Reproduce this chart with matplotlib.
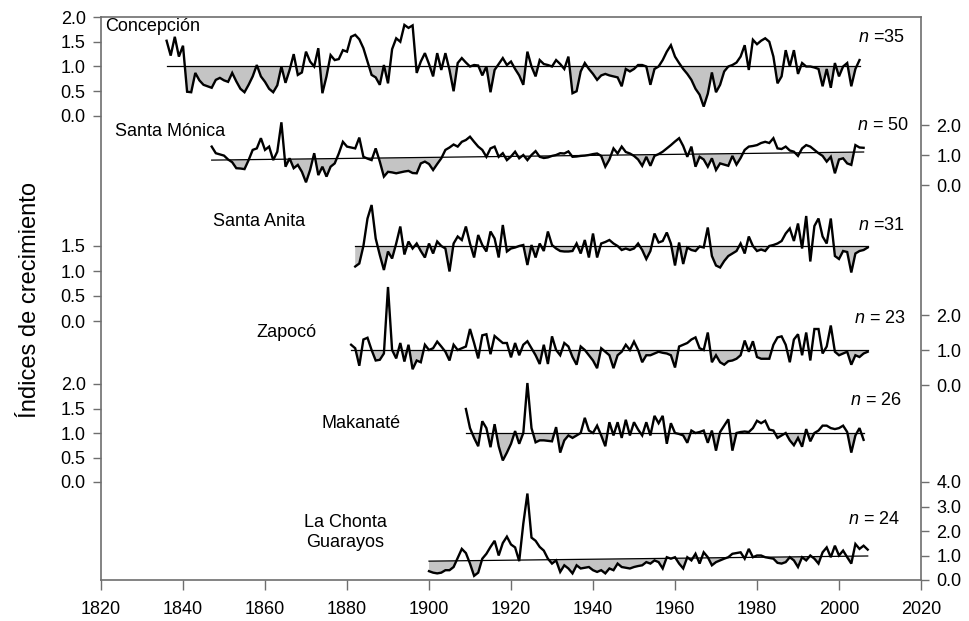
import numpy as np
import matplotlib
matplotlib.use('Agg')
import matplotlib.pyplot as plt

plt.rcParams['font.family'] = ['Liberation Sans', 'DejaVu Sans']
plt.rcParams['mathtext.fontset'] = 'custom'
plt.rcParams['mathtext.it'] = 'Liberation Sans:italic'
plt.rcParams['mathtext.rm'] = 'Liberation Sans'

# ---- datos (índices de crecimiento por año) ----
conc_start = 1836
conc_vals = [1.52, 1.22, 1.60, 1.20, 1.42, 0.49, 0.48, 0.87, 0.72, 0.63,
             0.60, 0.57, 0.73, 0.77, 0.72, 0.69, 0.87, 0.70, 0.55, 0.48,
             0.63, 0.80, 1.03, 0.80, 0.69, 0.55, 0.48, 0.62, 1.00, 0.67,
             0.93, 1.25, 0.83, 0.88, 1.30, 1.10, 1.00, 1.37, 0.46, 0.80,
             1.23, 1.13, 1.15, 1.33, 1.30, 1.60, 1.64, 1.55, 1.37, 1.10,
             0.83, 0.78, 0.63, 1.03, 0.66, 1.35, 1.57, 1.50, 1.84, 1.78,
             1.83, 0.87, 1.10, 1.27, 1.05, 0.80, 1.27, 0.93, 1.27, 0.93,
             0.50, 1.07, 1.17, 1.08, 1.00, 1.03, 1.02, 0.82, 1.00, 0.48,
             0.93, 1.05, 1.17, 1.03, 1.10, 0.95, 0.82, 0.63, 1.30, 1.00,
             0.80, 1.13, 1.05, 1.03, 1.00, 1.13, 1.05, 0.95, 1.20, 0.46,
             0.50, 0.90, 1.07, 0.95, 0.85, 0.73, 0.82, 0.85, 0.82, 0.80,
             0.78, 0.60, 0.95, 0.90, 0.95, 1.03, 1.03, 1.00, 0.63, 0.95,
             1.00, 1.13, 1.30, 1.43, 1.20, 1.07, 0.95, 0.85, 0.73, 0.55,
             0.43, 0.19, 0.45, 0.88, 0.48, 0.63, 0.90, 1.00, 1.03, 1.08,
             1.20, 1.43, 0.93, 1.54, 1.45, 1.52, 1.57, 1.50, 1.20, 0.66,
             0.80, 1.33, 1.00, 1.33, 0.85, 1.07, 1.00, 1.00, 0.98, 0.95,
             0.60, 0.95, 0.57, 1.07, 0.80, 1.00, 1.07, 0.60, 0.95, 1.13]

smon_start = 1847
smon_vals = [1.28, 1.06, 1.02, 0.98, 0.85, 0.76, 0.56, 0.55, 0.53, 0.83,
             1.17, 1.22, 1.56, 1.17, 1.28, 0.83, 1.11, 2.09, 0.61, 0.89,
             0.56, 0.67, 0.44, 0.09, 0.50, 1.06, 0.33, 0.61, 0.28, 0.61,
             0.72, 1.05, 1.44, 1.28, 1.25, 1.22, 1.58, 0.94, 0.88, 0.83,
             1.22, 0.78, 0.28, 0.44, 0.42, 0.39, 0.42, 0.45, 0.47, 0.40,
             0.39, 0.72, 0.78, 0.70, 0.50, 0.70, 0.89, 1.17, 1.25, 1.35,
             1.28, 1.44, 1.50, 1.61, 1.44, 1.28, 1.17, 0.94, 1.22, 1.28,
             0.94, 1.06, 0.83, 0.95, 1.11, 0.89, 1.00, 0.83, 1.00, 1.13,
             0.94, 0.90, 0.92, 0.97, 1.00, 1.06, 1.05, 1.12, 0.94, 0.95,
             0.97, 0.98, 1.00, 1.03, 1.05, 0.97, 0.61, 0.85, 1.22, 1.05,
             1.28, 1.10, 1.05, 0.97, 0.85, 0.64, 0.94, 0.64, 0.97, 1.03,
             1.11, 1.22, 1.33, 1.45, 1.56, 1.30, 0.94, 1.28, 0.61, 0.94,
             0.85, 0.61, 0.89, 0.50, 0.72, 0.68, 0.64, 0.97, 0.68, 0.90,
             1.17, 1.28, 1.30, 1.33, 1.40, 1.44, 1.40, 1.56, 1.22, 1.20,
             1.28, 1.15, 1.11, 0.97, 1.22, 1.33, 1.28, 1.17, 1.06, 0.97,
             0.78, 0.94, 0.39, 0.85, 0.89, 0.72, 0.67, 1.33, 1.25, 1.24]

sani_start = 1882
sani_vals = [0.59, 0.65, 1.00, 1.55, 1.82, 1.15, 0.82, 0.52, 0.89, 0.75,
             1.05, 1.39, 0.83, 1.09, 0.95, 1.05, 0.90, 0.77, 1.05, 0.85,
             1.09, 1.00, 0.95, 0.49, 1.05, 1.19, 1.12, 1.39, 1.05, 0.77,
             1.22, 1.02, 0.89, 1.29, 1.15, 0.77, 1.42, 0.89, 0.95, 0.97,
             1.00, 1.02, 0.62, 1.02, 0.77, 1.05, 0.90, 1.29, 1.02, 0.95,
             0.90, 0.89, 0.89, 0.90, 1.05, 0.85, 1.12, 0.77, 1.25, 0.77,
             1.05, 1.08, 1.12, 1.05, 1.00, 0.92, 0.95, 0.92, 0.95, 1.05,
             0.92, 0.74, 0.90, 1.25, 1.07, 1.10, 1.27, 1.05, 0.61, 1.07,
             0.64, 0.97, 0.92, 0.90, 0.99, 0.97, 1.37, 0.80, 0.61, 0.57,
             0.70, 0.80, 0.85, 0.90, 1.05, 0.85, 1.19, 1.00, 0.90, 0.93,
             0.90, 1.00, 1.02, 1.05, 1.10, 1.25, 1.35, 1.10, 1.45, 0.95,
             1.60, 0.69, 1.40, 1.55, 1.19, 1.05, 1.55, 0.80, 0.74, 0.90,
             0.88, 0.47, 0.85, 0.90, 0.92, 0.97]

zapo_start = 1881
zapo_vals = [1.15, 1.05, 0.55, 1.30, 1.35, 1.00, 0.70, 0.72, 0.90, 2.80,
             1.00, 0.76, 1.20, 0.67, 1.15, 0.45, 0.70, 0.65, 1.15, 1.00,
             1.05, 1.24, 1.10, 0.95, 0.70, 1.15, 1.00, 1.05, 1.10, 1.60,
             1.20, 0.76, 1.42, 1.45, 0.88, 1.40, 1.30, 1.20, 1.20, 0.79,
             1.20, 0.85, 1.15, 1.25, 1.05, 0.85, 0.60, 1.15, 0.60, 1.39,
             1.00, 0.85, 1.20, 1.10, 0.80, 0.58, 1.10, 1.00, 0.85, 0.70,
             0.48, 1.05, 0.95, 0.85, 0.48, 0.85, 0.95, 1.15, 1.00, 1.24,
             1.00, 0.65, 0.85, 0.85, 0.90, 0.95, 0.92, 0.90, 0.85, 0.50,
             1.10, 1.15, 1.20, 1.30, 1.36, 1.05, 1.00, 1.50, 0.65, 0.85,
             0.65, 0.58, 0.68, 0.70, 0.75, 0.85, 1.27, 0.95, 1.25, 0.80,
             0.75, 0.75, 0.75, 1.15, 1.36, 1.39, 1.15, 0.65, 1.30, 1.45,
             0.85, 1.50, 0.70, 1.60, 1.60, 0.90, 1.10, 1.70, 0.95, 0.85,
             0.90, 0.95, 0.58, 0.85, 0.80, 0.90, 0.95]

maka_start = 1909
maka_vals = [1.49, 1.10, 0.90, 0.73, 1.24, 1.10, 0.71, 1.18, 0.73, 0.44,
             0.60, 0.78, 1.04, 0.78, 1.00, 2.02, 1.10, 0.81, 0.85, 0.85,
             0.84, 0.83, 1.12, 0.60, 0.85, 0.95, 0.90, 0.95, 1.00, 1.31,
             1.05, 1.00, 1.15, 0.95, 0.73, 1.22, 0.95, 1.22, 0.90, 1.27,
             0.95, 1.22, 1.07, 0.95, 1.22, 0.95, 1.35, 1.20, 1.35, 0.78,
             1.20, 1.00, 0.98, 0.95, 0.80, 1.05, 1.00, 1.02, 1.05, 0.80,
             1.05, 0.64, 1.02, 1.15, 1.28, 0.64, 1.00, 1.02, 1.03, 1.02,
             1.10, 1.25, 1.20, 1.25, 1.07, 1.05, 0.90, 0.95, 1.00, 0.85,
             0.75, 0.90, 0.72, 1.08, 0.83, 1.00, 1.05, 1.15, 1.15, 1.10,
             1.08, 1.10, 1.15, 1.02, 0.60, 0.95, 1.10, 0.86]

chon_start = 1900
chon_vals = [0.36, 0.30, 0.27, 0.30, 0.40, 0.40, 0.53, 0.90, 1.27, 1.10,
             0.67, 0.17, 0.30, 0.87, 1.07, 1.35, 1.60, 1.00, 1.51, 1.77,
             1.45, 1.33, 0.77, 2.30, 3.53, 1.73, 1.60, 1.35, 1.20, 0.87,
             0.67, 0.80, 0.33, 0.60, 0.47, 0.27, 0.60, 0.47, 0.50, 0.53,
             0.40, 0.33, 0.40, 0.27, 0.47, 0.40, 0.67, 0.53, 0.50, 0.47,
             0.53, 0.57, 0.60, 0.73, 0.67, 0.80, 0.73, 0.47, 0.93, 0.87,
             0.93, 0.67, 0.47, 0.93, 0.80, 1.07, 0.67, 1.13, 0.93, 0.60,
             0.73, 0.80, 0.87, 0.93, 1.07, 1.10, 1.13, 0.87, 1.27, 0.93,
             1.00, 1.00, 0.93, 0.90, 0.87, 0.70, 0.67, 0.73, 0.93, 0.80,
             0.53, 0.93, 0.80, 1.00, 0.87, 0.67, 1.13, 1.33, 0.93, 1.40,
             1.00, 1.20, 0.93, 0.67, 1.47, 1.27, 1.40, 1.24]

# línea de referencia (inicio, fin) de cada serie
conc_ref = (1.0, 1.0)
smon_ref = (0.83, 1.10)
sani_ref = (1.0, 1.0)
zapo_ref = (1.0, 1.0)
maka_ref = (1.0, 1.0)
chon_ref = (0.77, 0.98)

names = ['Concepción', 'Santa Mónica', 'Santa Anita', 'Zapocó', 'Makanaté',
         'La Chonta\nGuarayos']
n_labels = ['$n$ =35', '$n$ = 50', '$n$ =31', '$n$ = 23', '$n$ = 26', '$n$ = 24']

# ---- figura ----
W, H = 969, 621
fig = plt.figure(figsize=(W / 100, H / 100), dpi=100)

# marco en pixeles: izquierda, derecha, arriba, abajo
X0, X1, YT, YB = 101, 921, 17, 580
frame = [X0 / W, 1 - YB / H, (X1 - X0) / W, (YB - YT) / H]
FS = 13
GRAY = '#6e6e6e'

ax = fig.add_axes(frame)
ax.set_xlim(1820, 2020)
ax.set_xticks(range(1820, 2021, 20))
ax.set_yticks([])
ax.tick_params(axis='x', direction='out', length=7, width=1, color=GRAY,
               labelsize=FS, pad=8)
for s in ax.spines.values():
    s.set_color(GRAY)
    s.set_linewidth(1.2)


def series_axes(zero_px, ppu, side=None, ticks=None):
    """ ejes transparentes con escala propia: valor 0 en zero_px, ppu px por unidad """
    a = fig.add_axes(frame)
    a.patch.set_visible(False)
    for s in a.spines.values():
        s.set_visible(False)
    a.set_xlim(1820, 2020)
    a.set_ylim((zero_px - YB) / ppu, (zero_px - YT) / ppu)
    a.set_xticks([])
    if side is None:
        a.set_yticks([])
    else:
        a.set_yticks(ticks, [f'{t:.1f}' for t in ticks])
        if side == 'right':
            a.yaxis.tick_right()
        a.tick_params(axis='y', direction='out', length=6, width=1,
                      color=GRAY, labelsize=FS, pad=5)
    return a


def draw(a, start, vals, ref, name, name_xy, nlab, nlab_xy, name_ha='left'):
    years = np.arange(start, start + len(vals))
    vals = np.array(vals)
    trend = np.linspace(ref[0], ref[1], len(vals))
    a.fill_between(years, vals, trend, where=vals < trend, interpolate=True,
                   color='#c4c4c4', lw=0)
    a.plot([years[0], years[-1]], [ref[0], ref[1]], color='black', lw=0.9)
    a.plot(years, vals, color='black', lw=1.7, solid_joinstyle='miter')
    a.text(name_xy[0], name_xy[1], name, ha=name_ha, va='center', fontsize=FS,
           multialignment='center')
    a.text(nlab_xy[0], nlab_xy[1], nlab, ha='right', va='center', fontsize=FS)


ticks_l = [0.0, 0.5, 1.0, 1.5, 2.0]

a1 = series_axes(116, 49.5, 'left', ticks_l)
draw(a1, conc_start, conc_vals, conc_ref, names[0], (1821, 1.80),
     n_labels[0], (2016, 1.58))

a2 = series_axes(185, 30, 'right', [0.0, 1.0, 2.0])
draw(a2, smon_start, smon_vals, smon_ref, names[1], (1823.5, 1.8),
     n_labels[1], (2017, 2.0))

# Santa Anita: la escala rotulada va 25 px por debajo de la curva
a3t = series_axes(321, 50, 'left', [0.0, 0.5, 1.0, 1.5])
a3 = series_axes(296, 50)
draw(a3, sani_start, sani_vals, sani_ref, names[2], (1847.3, 1.48),
     n_labels[2], (2016, 1.40))

a4 = series_axes(385, 35, 'right', [0.0, 1.0, 2.0])
draw(a4, zapo_start, zapo_vals, zapo_ref, names[3], (1858, 1.50),
     n_labels[3], (2016.3, 1.91))

a5 = series_axes(482, 49, 'left', ticks_l)
draw(a5, maka_start, maka_vals, maka_ref, names[4], (1873.9, 1.2),
     n_labels[4], (2015.3, 1.67))

a6 = series_axes(580, 24.5, 'right', [0.0, 1.0, 2.0, 3.0, 4.0])
draw(a6, chon_start, chon_vals, chon_ref, names[5], (1879.5, 1.95),
     n_labels[5], (2014.8, 2.45), name_ha='center')

fig.text(30 / W, 1 - 300 / H, 'Índices de crecimiento', rotation=90,
         ha='center', va='center', fontsize=17)

fig.savefig('out.png', dpi=100)
